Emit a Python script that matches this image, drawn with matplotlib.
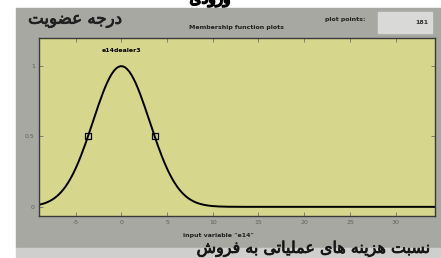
import numpy as np
import matplotlib.pyplot as plt
import matplotlib.patheffects as pe
from matplotlib.patches import Rectangle

# data
mf_center = 0.0
mf_sigma = 3.1
mf_name = "e14dealer3"
x_ticks = [-5, 0, 5, 10, 15, 20, 25, 30]
y_ticks = [0, 0.5, 1]
x_range = [-9, 34.3]
n_points = 181
title_text = "Membership function plots"
xlabel_text = 'input variable "e14"'
fa_ylabel = "درجه عضویت"
fa_xlabel = "نسبت هزینه های عملیاتی به فروش"
fa_top = "ورودی"

plt.rcParams["axes.unicode_minus"] = False

# minimal Persian shaping (matplotlib has no Arabic shaping)
FORMS = {
    "ا": ("\ufe8d", "\ufe8e", None, None),
    "ب": ("\ufe8f", "\ufe90", "\ufe91", "\ufe92"),
    "ت": ("\ufe95", "\ufe96", "\ufe97", "\ufe98"),
    "ج": ("\ufe9d", "\ufe9e", "\ufe9f", "\ufea0"),
    "د": ("\ufea9", "\ufeaa", None, None),
    "ر": ("\ufead", "\ufeae", None, None),
    "ز": ("\ufeaf", "\ufeb0", None, None),
    "س": ("\ufeb1", "\ufeb2", "\ufeb3", "\ufeb4"),
    "ش": ("\ufeb5", "\ufeb6", "\ufeb7", "\ufeb8"),
    "ض": ("\ufebd", "\ufebe", "\ufebf", "\ufec0"),
    "ع": ("\ufec9", "\ufeca", "\ufecb", "\ufecc"),
    "ف": ("\ufed1", "\ufed2", "\ufed3", "\ufed4"),
    "ل": ("\ufedd", "\ufede", "\ufedf", "\ufee0"),
    "م": ("\ufee1", "\ufee2", "\ufee3", "\ufee4"),
    "ن": ("\ufee5", "\ufee6", "\ufee7", "\ufee8"),
    "ه": ("\ufee9", "\ufeea", "\ufeeb", "\ufeec"),
    "و": ("\ufeed", "\ufeee", None, None),
    "ی": ("\ufeef", "\ufef0", "\ufef3", "\ufef4"),
}


def shape(txt):
    out = []
    for i, ch in enumerate(txt):
        if ch not in FORMS:
            out.append(ch)
            continue
        prev = txt[i - 1] if i > 0 else " "
        nxt = txt[i + 1] if i + 1 < len(txt) else " "
        joins_prev = prev in FORMS and FORMS[prev][2] is not None
        joins_next = nxt in FORMS and FORMS[ch][2] is not None
        iso, fin, ini, med = FORMS[ch]
        if joins_prev and joins_next:
            out.append(med)
        elif joins_prev:
            out.append(fin)
        elif joins_next:
            out.append(ini)
        else:
            out.append(iso)
    return "".join(out)[::-1]


W, H = 441, 258
fig = plt.figure(figsize=(W / 100, H / 100), dpi=100)
fig.patch.set_facecolor("white")


def fx(px):
    return px / W


def fy(py):
    return 1 - py / H


# gray panel and lighter strip below
fig.patches.append(Rectangle((fx(16), fy(248)), fx(W - 16), fy(8) - fy(248),
                             transform=fig.transFigure, color="#a8a8a3", zorder=0))
fig.patches.append(Rectangle((fx(16), 0), fx(W - 16), fy(248),
                             transform=fig.transFigure, color="#cfcfcd", zorder=0))
# plot points box
fig.patches.append(Rectangle((fx(378), fy(33)), fx(54), fy(12) - fy(33),
                             transform=fig.transFigure, color="#d9d9d7", zorder=1))

ax = fig.add_axes([fx(39), fy(216), fx(435) - fx(39), fy(38) - fy(216)])
ax.set_zorder(3)
ax.set_facecolor("#d6d68c")

x = np.linspace(x_range[0], x_range[1], n_points)
y = np.exp(-0.5 * ((x - mf_center) / mf_sigma) ** 2)
ax.plot(x, y, color="black", lw=1.4)

half = mf_sigma * np.sqrt(2 * np.log(2))
ax.plot([mf_center - half, mf_center + half], [0.5, 0.5], "s",
        mfc="none", mec="black", ms=4, mew=0.9)
ax.text(mf_center, 1.11, mf_name, ha="center", va="center",
        fontsize=4.5, fontweight="bold", color="black")

ax.set_xlim(x_range)
ax.set_ylim(-0.065, 1.2)
ax.set_xticks(x_ticks)
ax.set_yticks(y_ticks)
ax.set_yticklabels(["0", "0.5", "1"])
ax.tick_params(direction="in", length=3, width=0.6, colors="#707070",
               labelsize=4.5, labelcolor="#606060", top=True, right=True, pad=3)
for sp in ax.spines.values():
    sp.set_color("#3a3a3a")
    sp.set_linewidth(1.0)

fig.text(fx(236), fy(28), title_text, ha="center", va="center",
         fontsize=4.5, fontweight="bold", color="#202020")
fig.text(fx(345), fy(20), "plot points:", ha="center", va="center",
         fontsize=4.5, fontweight="bold", color="#202020")
fig.text(fx(428), fy(22), str(n_points), ha="right", va="center",
         fontsize=4.5, fontweight="bold", color="#303030")
fig.text(fx(218), fy(235), xlabel_text, ha="center", va="center",
         fontsize=4.5, fontweight="bold", color="#202020")

heavy = [pe.withStroke(linewidth=0.6, foreground="#202020")]
fig.text(fx(75), fy(19), shape(fa_ylabel), ha="center", va="center",
         fontsize=12, color="#202020", family="DejaVu Sans", path_effects=heavy)
fig.text(fx(314), fy(249), shape(fa_xlabel), ha="center", va="center",
         fontsize=11.5, color="#151515", family="DejaVu Sans", path_effects=heavy)
fig.text(fx(210), fy(-1), shape(fa_top), ha="center", va="center",
         fontsize=11, color="black", family="DejaVu Sans",
         path_effects=[pe.withStroke(linewidth=1.2, foreground="black")])

fig.savefig("out.png", dpi=100)
